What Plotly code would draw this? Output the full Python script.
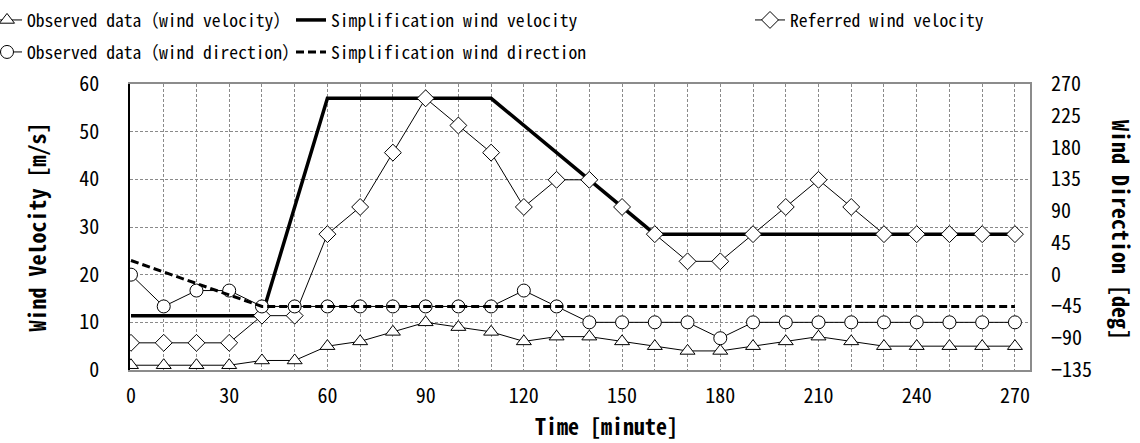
import plotly.graph_objects as go

# ---- data ----
time_min = [0, 10, 20, 30, 40, 50, 60, 70, 80, 90, 100, 110, 120, 130,
            140, 150, 160, 170, 180, 190, 200, 210, 220, 230, 240, 250, 260, 270]
obs_velocity = [1, 1, 1, 1, 2, 2, 5, 6, 8, 10, 9, 8, 6, 7,
                7, 6, 5, 4, 4, 5, 6, 7, 6, 5, 5, 5, 5, 5]
referred_velocity = [5.7, 5.7, 5.7, 5.7, 11.4, 11.4, 28.5, 34.2, 45.6, 57.0, 51.3, 45.6, 34.2, 39.9,
                     39.9, 34.2, 28.5, 22.8, 22.8, 28.5, 34.2, 39.9, 34.2, 28.5, 28.5, 28.5, 28.5, 28.5]
obs_direction = [0, -45, -22.5, -22.5, -45, -45, -45, -45, -45, -45, -45, -45, -22.5, -45,
                 -67.5, -67.5, -67.5, -67.5, -90, -67.5, -67.5, -67.5, -67.5, -67.5, -67.5, -67.5, -67.5, -67.5]
simp_vel_time = [0, 40, 60, 110, 160, 270]
simp_velocity = [11.4, 11.4, 57.0, 57.0, 28.5, 28.5]
simp_dir_time = [0, 40, 270]
simp_direction = [20, -45, -45]

x_ticks = [0, 30, 60, 90, 120, 150, 180, 210, 240, 270]
y_ticks = [0, 10, 20, 30, 40, 50, 60]
y2_ticks = [-135, -90, -45, 0, 45, 90, 135, 180, 225, 270]

FONT = "Noto Sans Mono CJK JP, DejaVu Sans Mono, monospace"
FONT_B = "Noto Sans Mono CJK JP, DejaVu Sans Mono, monospace"

fig = go.Figure()

fig.add_trace(go.Scatter(
    x=time_min, y=obs_velocity, name="Observed data（wind velocity）",
    mode="lines+markers", line=dict(color="black", width=1),
    marker=dict(symbol="triangle-up", size=13, color="white", line=dict(color="black", width=1)),
    legend="legend"))
fig.add_trace(go.Scatter(
    x=simp_vel_time, y=simp_velocity, name="Simplification wind velocity",
    mode="lines", line=dict(color="black", width=3.5),
    legend="legend2"))
fig.add_trace(go.Scatter(
    x=time_min, y=referred_velocity, name="Referred wind velocity",
    mode="lines+markers", line=dict(color="black", width=1),
    marker=dict(symbol="diamond", size=13, color="white", line=dict(color="black", width=1)),
    legend="legend3"))
fig.add_trace(go.Scatter(
    x=time_min, y=obs_direction, name="Observed data（wind direction）", yaxis="y2",
    mode="lines+markers", line=dict(color="black", width=1),
    marker=dict(symbol="circle", size=13, color="white", line=dict(color="black", width=1)),
    legend="legend4"))
fig.add_trace(go.Scatter(
    x=simp_dir_time, y=simp_direction, name="Simplification wind direction", yaxis="y2",
    mode="lines", line=dict(color="black", width=3, dash="8px,4px"),
    legend="legend5"))

L, R, T, B = 130, 110, 84, 73
W, H = 1140, 443
pw, ph = W - L - R, H - T - B


def px_x(p):
    return (p - L) / pw


def px_y(p):
    return (H - B - p) / ph


leg_common = dict(bgcolor="rgba(0,0,0,0)", borderwidth=0, orientation="v",
                  xanchor="left", yanchor="middle", itemwidth=30,
                  font=dict(family=FONT, size=17.6, color="black"))

fig.update_layout(
    width=W, height=H,
    showlegend=True,
    margin=dict(l=L, r=R, t=T, b=B, autoexpand=False),
    paper_bgcolor="white", plot_bgcolor="white",
    font=dict(family=FONT, size=20, color="black"),
    legend=dict(x=px_x(-13), y=px_y(20), **leg_common),
    legend2=dict(x=px_x(291), y=px_y(20), **leg_common),
    legend3=dict(x=px_x(750), y=px_y(20), **leg_common),
    legend4=dict(x=px_x(-13), y=px_y(52), **leg_common),
    legend5=dict(x=px_x(291), y=px_y(52), **leg_common),
    xaxis=dict(range=[-0.3, 274.6], tickvals=x_ticks, ticks="", showgrid=True,
               gridcolor="#8a8a8a", griddash="3px,2px", gridwidth=1,
               minor=dict(dtick=10, tick0=0, showgrid=True, gridcolor="#8a8a8a",
                          griddash="3px,2px", gridwidth=1, ticks=""),
               showline=True, linecolor="#8c8c8c", linewidth=2, mirror=True,
               zeroline=False, tickfont=dict(size=20), ticklabelstandoff=7),
    yaxis=dict(range=[0, 60], tickvals=y_ticks, ticks="", showgrid=True,
               gridcolor="#8a8a8a", griddash="3px,2px", gridwidth=1,
               showline=True, linecolor="black", linewidth=1.5, zeroline=False,
               tickfont=dict(size=20), ticklabelstandoff=25,
               title=dict(text="<b>Wind Velocity [m/s]</b>", font=dict(family=FONT_B, size=22),
                          standoff=27)),
    yaxis2=dict(range=[-135, 270], tickvals=y2_ticks, overlaying="y", side="right",
                ticks="", showgrid=False, showline=True, linecolor="#8c8c8c", linewidth=2,
                zeroline=False, tickfont=dict(size=20), ticklabelstandoff=15),
    annotations=[
        dict(text="<b>Time [minute]</b>", xref="paper", yref="paper",
             x=px_x(606), y=px_y(425), xanchor="center", yanchor="middle",
             showarrow=False, font=dict(family=FONT_B, size=22)),
        dict(text="<b>Wind Direction [deg]</b>", xref="paper", yref="paper",
             x=px_x(1122), y=px_y(230), xanchor="center", yanchor="middle",
             textangle=90, showarrow=False, font=dict(family=FONT_B, size=22)),
    ],
)

fig.write_html("out.html")
